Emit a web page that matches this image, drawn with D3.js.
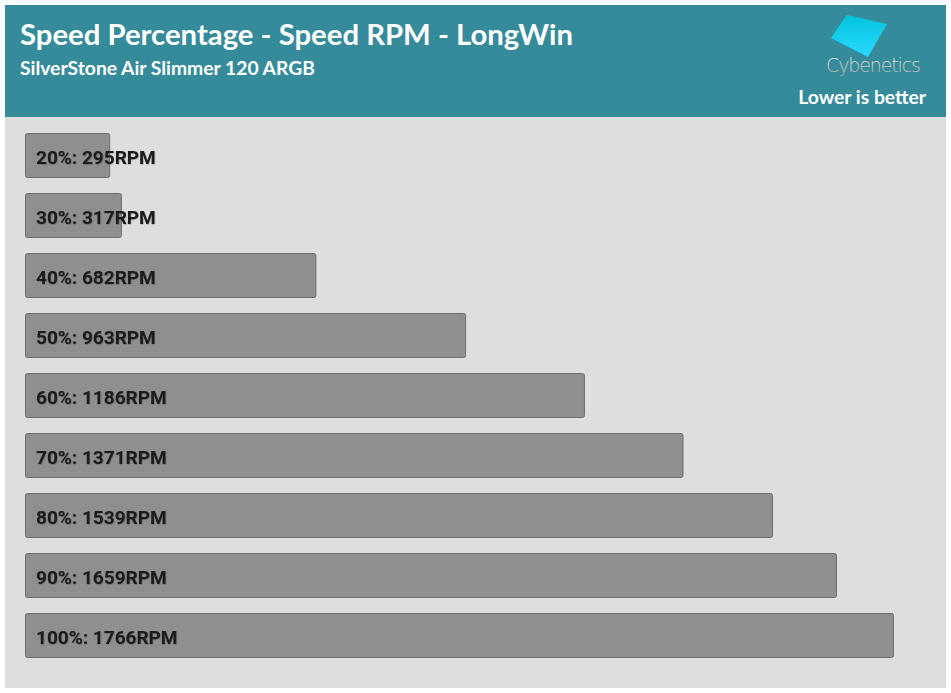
<!DOCTYPE html>
<html><head><meta charset="utf-8">
<script src="https://cdn.jsdelivr.net/npm/d3@7"></script>
<style>body{margin:0;background:#fff}svg{display:block}</style>
</head><body><svg id="c" width="951" height="693"></svg>
<script>
const title = "Speed Percentage - Speed RPM - LongWin";
const subtitle = "SilverStone Air Slimmer 120 ARGB";
const note = "Lower is better";
const categories = ["20%","30%","40%","50%","60%","70%","80%","90%","100%"];
const rpm = [295,317,682,963,1186,1371,1539,1659,1766];
const unit = "RPM";

const svg = d3.select("#c");
const defs = svg.append("defs");
const g1 = defs.append("linearGradient").attr("id","dg").attr("x1","0").attr("y1","0").attr("x2","0").attr("y2","1");
g1.append("stop").attr("offset","0").attr("stop-color","#00c4dc");
g1.append("stop").attr("offset","1").attr("stop-color","#2ad8ff");
const g2 = defs.append("linearGradient").attr("id","tg").attr("x1","0").attr("y1","0").attr("x2","0").attr("y2","1");
g2.append("stop").attr("offset","0").attr("stop-color","#f0f0f0");
g2.append("stop").attr("offset","1").attr("stop-color","#a8a8a8");
const f = defs.append("filter").attr("id","sh").attr("x","-5%").attr("y","-20%").attr("width","110%").attr("height","140%");
f.append("feDropShadow").attr("dx",0.5).attr("dy",0.5).attr("stdDeviation",0.6).attr("flood-color","#000").attr("flood-opacity",0.35);

svg.append("rect").attr("x",5).attr("y",5).attr("width",941).attr("height",683).attr("fill","#dedede");
svg.append("rect").attr("x",5).attr("y",5).attr("width",941).attr("height",112).attr("fill","#368b9a");

svg.append("text").attr("x",20).attr("y",45).attr("fill","#fff")
  .style("font-family","Lato").style("font-weight",700).style("font-size","29.3px").text(title);
svg.append("text").attr("x",20).attr("y",75).attr("fill","#fff")
  .style("font-family","Lato").style("font-weight",700).style("font-size","19.3px").text(subtitle);
svg.append("text").attr("x",926).attr("y",104).attr("text-anchor","end").attr("fill","#fff")
  .style("font-family","Lato").style("font-weight",700).style("font-size","19.3px").text(note);

// logo
svg.append("polygon").attr("points","831,38 846.7,15 887,24 868,57").attr("fill","url(#dg)");
svg.append("text").attr("x",873.5).attr("y",72).attr("text-anchor","middle").attr("fill","url(#tg)")
  .style("font-family","'DejaVu Sans'").style("font-weight",300).style("font-size","19px").attr("textLength",95).text("Cybenetics");

const x = d3.scaleLinear().domain([137, 1766]).range([25, 893]);
const y = d3.scaleBand().domain(categories).range([133, 657]).paddingInner(16/60).paddingOuter(0);

const rows = svg.append("g").selectAll("g").data(categories).join("g");
rows.append("rect")
  .attr("x", x(137)+0.5).attr("y", d => y(d)+0.5)
  .attr("width", (d,i) => x(rpm[i]) - x(137)).attr("height", y.bandwidth())
  .attr("rx",2).attr("fill","#8f8f8f").attr("stroke","#6e6e6e").attr("stroke-width",1);
rows.append("text")
  .attr("x",36).attr("y", d => y(d)+31)
  .attr("fill","#1c1c1c").attr("filter","url(#sh)")
  .style("font-family","Roboto").style("font-weight",700).style("font-size","19px")
  .text((d,i) => `${d}: ${rpm[i]}${unit}`);
</script></body></html>
